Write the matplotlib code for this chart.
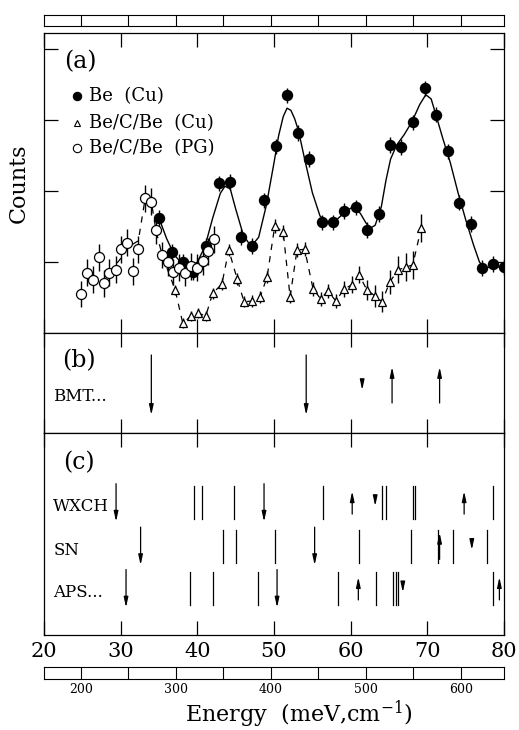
import matplotlib
matplotlib.use("Agg")
import matplotlib.pyplot as plt

plt.rcParams['font.family'] = ['DejaVu Serif']
plt.rcParams['mathtext.fontset'] = 'dejavuserif'

# ---- panel (a): measured spectra ----
be_cu_e = [35.0, 36.7, 38.1, 39.4, 41.1, 42.8, 44.3, 45.7, 47.1, 48.7, 50.2, 51.7, 53.1, 54.6, 56.2, 57.7,
           59.1, 60.7, 62.1, 63.7, 65.1, 66.5, 68.1, 69.7, 71.1, 72.7, 74.1, 75.7, 77.1, 78.5, 80.0]
be_cu_c = [1.62, 1.14, 1.00, 0.86, 1.23, 2.11, 2.13, 1.35, 1.23, 1.87, 2.63, 3.35, 2.82, 2.45, 1.56, 1.56,
           1.72, 1.77, 1.45, 1.68, 2.65, 2.62, 2.97, 3.45, 3.08, 2.56, 1.84, 1.54, 0.92, 0.97, 0.93]
be_cu_err = [0.11] * len(be_cu_e)

fit_e = [35.0, 36.0, 37.0, 38.0, 39.0, 40.0, 41.0, 42.0, 43.0, 43.6, 44.3, 45.0, 46.0, 47.0, 48.0, 49.0,
         50.0, 50.6, 51.2, 51.7, 52.2, 52.7, 53.2, 54.0, 55.0, 56.0, 57.0, 58.0, 59.0, 60.0, 60.6, 61.3,
         62.0, 62.6, 63.2, 64.0, 64.6, 65.2, 66.0, 67.0, 68.0, 69.0, 69.8, 70.5, 71.0, 72.0, 73.0, 74.0,
         75.0, 76.0, 76.8, 77.5, 78.5, 80.0]
fit_c = [1.62, 1.33, 1.10, 0.98, 0.93, 1.00, 1.22, 1.62, 1.97, 2.07, 2.03, 1.75, 1.38, 1.22, 1.35, 1.80,
         2.40, 2.78, 3.05, 3.17, 3.14, 3.02, 2.85, 2.45, 1.98, 1.65, 1.55, 1.58, 1.68, 1.76, 1.77, 1.68,
         1.55, 1.48, 1.52, 1.78, 2.15, 2.45, 2.65, 2.80, 2.98, 3.22, 3.36, 3.30, 3.12, 2.75, 2.40, 1.98,
         1.60, 1.25, 1.00, 0.92, 0.93, 0.93]

becbe_cu_e = [37.1, 38.1, 39.2, 40.1, 41.1, 42.0, 43.2, 44.1, 45.2, 46.1, 47.1, 48.2, 49.1, 50.1, 51.2,
              52.1, 53.0, 54.0, 55.1, 56.1, 57.0, 58.1, 59.1, 60.2, 61.1, 62.1, 63.2, 64.1, 65.1, 66.2,
              67.2, 68.1, 69.2]
becbe_cu_c = [0.61, 0.14, 0.24, 0.28, 0.24, 0.56, 0.69, 1.17, 0.76, 0.44, 0.45, 0.51, 0.79, 1.51, 1.42,
              0.51, 1.17, 1.18, 0.62, 0.48, 0.59, 0.45, 0.62, 0.68, 0.82, 0.61, 0.52, 0.44, 0.72, 0.89,
              0.93, 0.96, 1.48]
becbe_cu_err = [0.07, 0.07, 0.07, 0.07, 0.07, 0.08, 0.08, 0.09, 0.09, 0.08, 0.08, 0.08, 0.09, 0.10, 0.10,
                0.09, 0.10, 0.10, 0.10, 0.10, 0.10, 0.10, 0.11, 0.12, 0.12, 0.14, 0.15, 0.15, 0.17, 0.19,
                0.20, 0.20, 0.20]

becbe_pg_e = [24.8, 25.6, 26.4, 27.2, 27.8, 28.5, 29.4, 30.0, 30.8, 31.6, 32.3, 33.2, 34.0, 34.6, 35.4,
              36.2, 36.8, 37.6, 38.4, 39.2, 39.9, 40.7, 41.4, 42.2]
becbe_pg_c = [0.55, 0.85, 0.75, 1.07, 0.70, 0.85, 0.89, 1.18, 1.27, 0.87, 1.18, 1.90, 1.85, 1.45, 1.10,
              1.00, 0.86, 0.92, 0.85, 0.94, 0.92, 1.01, 1.15, 1.32]
becbe_pg_err = [0.19] * len(becbe_pg_e)

# dashed guide through the Be/C/Be data
guide_e = [28.5, 30.0, 30.8, 32.3, 33.2, 34.0, 34.6, 35.4, 37.1] + becbe_cu_e[1:]
guide_c = [0.85, 1.05, 1.20, 1.30, 1.90, 1.85, 1.45, 1.10, 0.61] + becbe_cu_c[1:]

# ---- panel (b) and (c): calculated modes (energy, signed arrow size; 0 = plain line) ----
bmt_e = [34.0, 54.2, 61.5, 65.4, 71.6]
bmt_amp = [-1.0, -1.0, -0.17, 0.6, 0.6]

wxch_e = [29.4, 39.6, 40.6, 44.8, 48.7, 56.4, 60.2, 63.2, 64.1, 64.6, 68.1, 68.4, 74.8, 78.5]
wxch_amp = [-1.0, 0, 0, 0, -1.0, 0, 0.6, -0.18, 0, 0, 0, 0, 0.6, 0]
sn_e = [32.6, 43.3, 45.0, 50.1, 55.3, 61.1, 67.9, 71.4, 71.6, 73.3, 75.8, 77.8]
sn_amp = [-1.0, 0, 0, 0, -1.0, 0, 0, 0, 0.7, 0, -0.2, 0]
aps_e = [30.7, 39.0, 42.0, 47.9, 50.4, 58.4, 61.0, 63.3, 65.5, 65.9, 66.2, 66.8, 78.6, 79.4]
aps_amp = [-1.0, 0, 0, 0, -1.0, 0, 0.6, 0, 0, 0, 0, -0.2, 0, 0.6]

MEV_TO_CM = 8.0655

W, H = 519, 730
fig = plt.figure(figsize=(W / 100, H / 100), dpi=100)


def box(top, bottom, left=44, right=504):
    return [left / W, 1 - bottom / H, (right - left) / W, (bottom - top) / H]


def frame(ax):
    ax.set_xlim(20, 80)
    ax.set_xticks(range(20, 81, 10))
    ax.tick_params(axis='x', direction='in', top=True, bottom=True, length=10, width=0.9,
                   labelbottom=False)
    ax.set_yticks([])
    for s in ax.spines.values():
        s.set_linewidth(0.9)


ax_a = fig.add_axes(box(33, 333))
ax_b = fig.add_axes(box(333, 433))
ax_c = fig.add_axes(box(433, 635))
for ax in (ax_a, ax_b, ax_c):
    frame(ax)

# panel (a)
ax_a.set_ylim(0, 4.23)
ax_a.set_yticks([1, 2, 3, 4])
ax_a.tick_params(axis='y', direction='in', left=True, right=True, length=10, width=0.9,
                 labelleft=False)
ax_a.plot(fit_e, fit_c, '-', color='k', lw=1.0, zorder=2)
ax_a.plot(guide_e, guide_c, color='k', lw=0.9, linestyle=(0, (5, 5)), zorder=2)
ax_a.errorbar(be_cu_e, be_cu_c, yerr=be_cu_err, fmt='o', color='k', ms=7.2, elinewidth=1.0,
              capsize=0, zorder=3)
ax_a.errorbar(becbe_pg_e, becbe_pg_c, yerr=becbe_pg_err, fmt='o', color='k', mfc='white', mec='k',
              mew=0.9, ms=7.2, elinewidth=1.0, capsize=0, zorder=4)
ax_a.errorbar(becbe_cu_e, becbe_cu_c, yerr=becbe_cu_err, fmt='^', color='k', mfc='white', mec='k',
              mew=0.9, ms=6, elinewidth=1.0, capsize=0, zorder=4)
ax_a.set_ylabel('Counts', fontsize=16, labelpad=10)
ax_a.text(24.7, 3.82, '(a)', fontsize=17, ha='center', va='center')

legend_rows = [('o', 'k', 'Be  (Cu)', 3.34), ('^', 'white', 'Be/C/Be  (Cu)', 2.96),
               ('o', 'white', 'Be/C/Be  (PG)', 2.61)]
for mk, fc, lab, yy in legend_rows:
    ax_a.plot([24.3], [yy], marker=mk, mfc=fc, mec='k', mew=0.8, ms=5 if mk == '^' else 6,
              color='k', ls='none')
    ax_a.text(25.9, yy, lab, fontsize=13, ha='left', va='center')


def draw_modes(ax, energies, amps, yc, line_len, arrow_len):
    for e, a in zip(energies, amps):
        if a == 0:
            ax.plot([e, e], [yc - line_len / 2, yc + line_len / 2], color='k', lw=0.9)
        else:
            half = abs(a) * arrow_len / 2
            y0, y1 = (yc + half, yc - half) if a < 0 else (yc - half, yc + half)
            ax.annotate('', xy=(e, y1), xytext=(e, y0),
                        arrowprops=dict(arrowstyle='-|>,head_length=0.6,head_width=0.13',
                                        color='k', lw=0.9, shrinkA=0, shrinkB=0,
                                        mutation_scale=10))


# panel (b)
ax_b.set_ylim(0, 1)
draw_modes(ax_b, bmt_e, bmt_amp, 0.48, 0.35, 0.60)
ax_b.text(24.6, 0.72, '(b)', fontsize=17, ha='center', va='center')
ax_b.text(21.2, 0.36, 'BMT...', fontsize=12, ha='left', va='center')

# panel (c)
ax_c.set_ylim(0, 1)
rows = [('WXCH', wxch_e, wxch_amp, 0.655), ('SN', sn_e, sn_amp, 0.44), ('APS...', aps_e, aps_amp, 0.23)]
for lab, es, amps, yc in rows:
    draw_modes(ax_c, es, amps, yc, 33 / 202, 38 / 202)
    ax_c.text(21.2, yc - 0.02, lab, fontsize=12, ha='left', va='center')
ax_c.text(24.6, 0.855, '(c)', fontsize=17, ha='center', va='center')
ax_c.tick_params(axis='x', labelbottom=True, labelsize=15, pad=5)

# wavenumber scale bars (cm^-1)
for top, bottom, labelled in ((15, 26, False), (667, 679, True)):
    bar = fig.add_axes(box(top, bottom))
    bar.set_xlim(20 * MEV_TO_CM, 80 * MEV_TO_CM)
    bar.set_ylim(0, 1)
    for v in range(200, 601, 50):
        bar.axvline(v, color='k', lw=0.8)
    bar.set_yticks([])
    for s in bar.spines.values():
        s.set_linewidth(0.8)
    if labelled:
        bar.set_xticks(range(200, 601, 100))
        bar.tick_params(axis='x', length=0, labelsize=9, pad=3)
    else:
        bar.set_xticks([])

fig.text(299 / W, 1 - 714 / H, 'Energy  (meV,cm$^{-1}$)', fontsize=16, ha='center', va='center')

fig.savefig('out.png', dpi=100)
